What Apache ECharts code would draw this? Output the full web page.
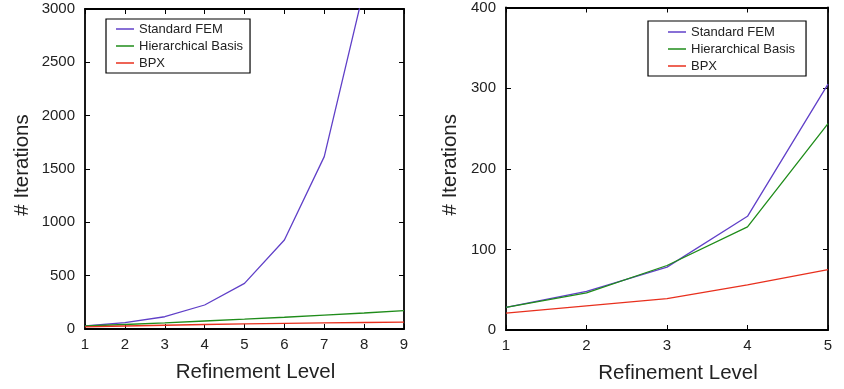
<!DOCTYPE html>
<html><head><meta charset="utf-8">
<script src="https://cdn.jsdelivr.net/npm/echarts@6/dist/echarts.min.js"></script>
<style>html,body{margin:0;padding:0;background:#fff}#c{width:844px;height:389px}</style>
</head><body><div id="c"></div>
<script>
const levelsLeft = [1,2,3,4,5,6,7,8,9];
const femLeft = [28,59,115,225,428,834,1616,3190];
const hbLeft = [28,42,57,75,92,110,130,150,172];
const bpxLeft = [20,28,35,42,48,53,57,61,65];
const levelsRight = [1,2,3,4,5];
const femRight = [28,48,78,141,305];
const hbRight = [28,46,80,128,256];
const bpxRight = [21,30,39,56,75];
const seriesNames = ['Standard FEM','Hierarchical Basis','BPX'];
const colors = ['#6040c8','#1f8c1a','#e8301e'];

const pair = (xs, ys) => ys.map((v,i)=>[xs[i], v]);
const FONT = 'Liberation Sans, Arial, sans-serif';
const axisLine = {show:true, onZero:false, lineStyle:{color:'#000', width:1.8}};
const tick = {show:true, inside:true, length:5, lineStyle:{color:'#000', width:1}};
const lbl = {color:'#222', fontSize:15, fontFamily:FONT, formatter:(v)=>String(v)};

function xAxes(gi, max){
  return [
    {gridIndex:gi, type:'value', min:1, max:max, interval:1, position:'bottom',
     axisLine, axisTick:tick, splitLine:{show:false},
     axisLabel:Object.assign({margin:8}, lbl),
     name:'Refinement Level', nameLocation:'middle', nameGap:33,
     nameTextStyle:{fontSize:20.5, color:'#222', fontFamily:FONT, padding:[0,0,0,22]}},
    {gridIndex:gi, type:'value', min:1, max:max, interval:1, position:'top',
     axisLine, axisTick:tick, axisLabel:{show:false}, splitLine:{show:false}}
  ];
}
function yAxes(gi, max, interval, gap){
  return [
    {gridIndex:gi, type:'value', min:0, max:max, interval:interval, position:'left',
     axisLine, axisTick:tick, splitLine:{show:false},
     axisLabel:Object.assign({margin:10}, lbl),
     name:'# Iterations', nameLocation:'middle', nameGap:gap,
     nameTextStyle:{fontSize:20.5, color:'#222', fontFamily:FONT, padding:[0,0,0,8]}},
    {gridIndex:gi, type:'value', min:0, max:max, interval:interval, position:'right',
     axisLine, axisTick:tick, axisLabel:{show:false}, splitLine:{show:false}}
  ];
}
function mk(name, data, gi, c){
  return {name, type:'line', data, xAxisIndex:gi*2, yAxisIndex:gi*2, symbol:'none',
    lineStyle:{color:c, width:1.3}, itemStyle:{color:c}, clip:true, silent:true, animation:false};
}
const legendCommon = {orient:'vertical', icon:'rect', itemWidth:18, itemHeight:1.5,
  itemGap:3, borderColor:'#000', borderWidth:1.2, backgroundColor:'#fff',
  textStyle:{fontSize:13, color:'#222', fontFamily:FONT, lineHeight:14},
  data:seriesNames};

const chart = echarts.init(document.getElementById('c'), null, {renderer:'canvas'});
chart.setOption({
  animation:false,
  grid:[{left:85, top:9, width:319, height:320},{left:506, top:7, width:322, height:323}],
  xAxis:[...xAxes(0,9), ...xAxes(1,5)],
  yAxis:[...yAxes(0,3000,500,52), ...yAxes(1,400,100,45)],
  legend:[
    Object.assign({left:106, top:19, padding:[3,7,3,10]}, legendCommon),
    Object.assign({left:648, top:21, padding:[4,11,3,20]}, legendCommon)
  ],
  series:[
    mk(seriesNames[0], pair(levelsLeft, femLeft), 0, colors[0]),
    mk(seriesNames[1], pair(levelsLeft, hbLeft), 0, colors[1]),
    mk(seriesNames[2], pair(levelsLeft, bpxLeft), 0, colors[2]),
    mk(seriesNames[0], pair(levelsRight, femRight), 1, colors[0]),
    mk(seriesNames[1], pair(levelsRight, hbRight), 1, colors[1]),
    mk(seriesNames[2], pair(levelsRight, bpxRight), 1, colors[2])
  ]
});
</script></body></html>
